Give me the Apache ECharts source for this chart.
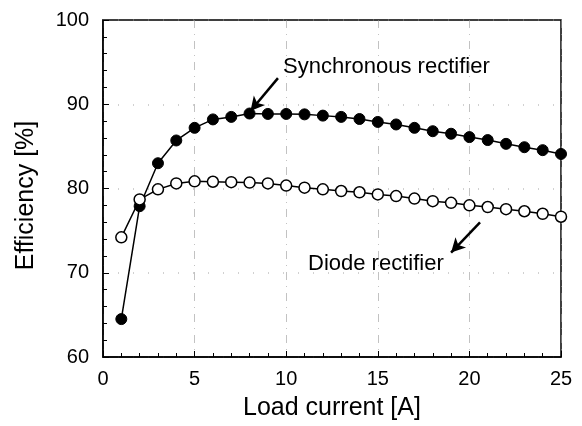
<!DOCTYPE html>
<html>
<head>
<meta charset="utf-8">
<script src="https://cdn.jsdelivr.net/npm/echarts@6/dist/echarts.min.js"></script>
<style>
html,body{margin:0;padding:0;background:#fff;}
#chart{width:582px;height:426px;}
</style>
</head>
<body>
<div id="chart"></div>
<script>
const loadCurrent = [1,2,3,4,5,6,7,8,9,10,11,12,13,14,15,16,17,18,19,20,21,22,23,24,25];
const syncEff = [64.5,77.9,83.0,85.7,87.2,88.2,88.5,88.9,88.85,88.85,88.8,88.65,88.5,88.25,87.9,87.6,87.2,86.8,86.5,86.1,85.75,85.3,84.9,84.55,84.1];
const diodeEff = [74.2,78.7,79.9,80.6,80.85,80.8,80.75,80.7,80.6,80.35,80.1,79.9,79.7,79.55,79.3,79.1,78.8,78.5,78.3,78.0,77.8,77.55,77.3,77.0,76.65];
const xTicks = [0,5,10,15,20,25];
const yTicks = [60,70,80,90,100];
const syncLabel = 'Synchronous rectifier';
const diodeLabel = 'Diode rectifier';

const FONT = 'Liberation Sans';
const chart = echarts.init(document.getElementById('chart'), null, {renderer:'canvas'});
const pair = (xs, ys) => xs.map((x,i)=>[x, ys[i]]);

chart.setOption({
  animation:false,
  backgroundColor:'#fff',
  grid:{left:103,right:21,top:20,bottom:68,show:true,borderColor:'#000',borderWidth:1.5,backgroundColor:'transparent'},
  xAxis:{
    type:'value',min:xTicks[0],max:xTicks[xTicks.length-1],interval:5,
    name:'Load current [A]',nameLocation:'middle',nameGap:39,
    nameTextStyle:{fontFamily:FONT,fontSize:25,color:'#000'},
    axisLine:{lineStyle:{color:'#000',width:1.5}},
    axisTick:{inside:true,length:6,lineStyle:{color:'#000'}},
    minorTick:{show:true,splitNumber:5,length:4,lineStyle:{color:'#000'}},
    axisLabel:{fontFamily:FONT,fontSize:20,color:'#000',margin:12},
    splitLine:{show:true,lineStyle:{color:'#999',type:[8,6,1,6],width:1,opacity:0.6}}
  },
  yAxis:{
    type:'value',min:yTicks[0],max:yTicks[yTicks.length-1],interval:10,
    name:'Efficiency [%]',nameLocation:'middle',nameGap:64,
    nameTextStyle:{fontFamily:FONT,fontSize:25,color:'#000',padding:[0,14,0,0]},
    axisLine:{lineStyle:{color:'#000',width:1.5}},
    axisTick:{inside:true,length:6,lineStyle:{color:'#000'}},
    minorTick:{show:true,splitNumber:5,length:4,lineStyle:{color:'#000'}},
    axisLabel:{fontFamily:FONT,fontSize:20,color:'#000',margin:14},
    splitLine:{show:true,lineStyle:{color:'#999',type:[1,14],width:1.5,opacity:0.6}}
  },
  series:[
    {
      type:'line',data:pair(loadCurrent,syncEff),symbol:'circle',symbolSize:11,
      lineStyle:{color:'#000',width:1.5},itemStyle:{color:'#000',borderColor:'#000',borderWidth:1},
      z:3,
      markLine:{
        silent:true,symbol:['none','arrow'],symbolSize:[11,14],
        lineStyle:{color:'#000',width:2.5,type:'solid'},label:{show:false},
        data:[[{coord:[9.55,93.1]},{coord:[8.05,89.2]}]]
      },
      markPoint:{
        silent:true,symbol:'circle',symbolSize:0,
        label:{show:true,position:'right',distance:0,fontFamily:FONT,fontSize:22,color:'#000',formatter:syncLabel},
        data:[{coord:[9.83,94.4]}]
      }
    },
    {
      type:'line',data:pair(loadCurrent,diodeEff),symbol:'circle',symbolSize:11,
      lineStyle:{color:'#000',width:1.5},itemStyle:{color:'#fff',borderColor:'#000',borderWidth:1.5},
      z:4,
      markLine:{
        silent:true,symbol:['none','arrow'],symbolSize:[11,14],
        lineStyle:{color:'#000',width:2.5,type:'solid'},label:{show:false},
        data:[[{coord:[20.58,75.98]},{coord:[19.0,72.4]}]]
      },
      markPoint:{
        silent:true,symbol:'circle',symbolSize:0,
        label:{show:true,position:'right',distance:0,fontFamily:FONT,fontSize:22,color:'#000',formatter:diodeLabel},
        data:[{coord:[11.19,71.0]}]
      }
    }
  ]
});
</script>
</body>
</html>
